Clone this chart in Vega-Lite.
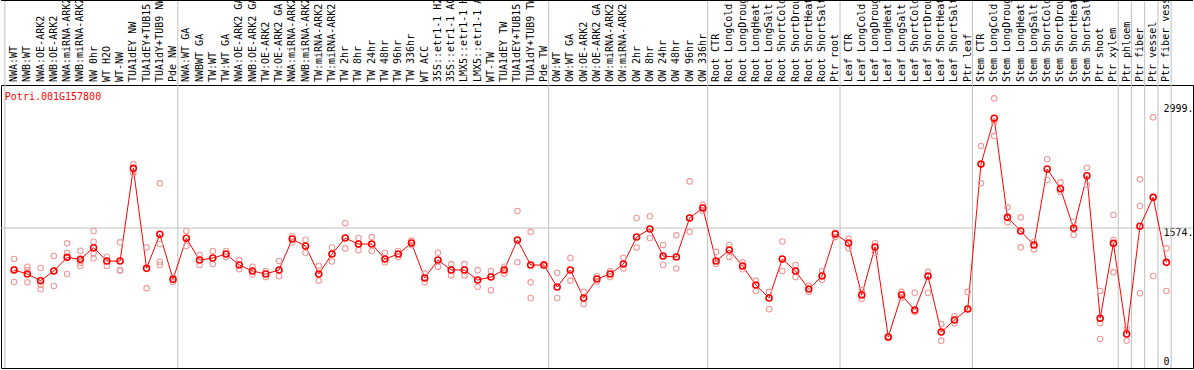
{
  "$schema": "https://vega.github.io/schema/vega-lite/v6.json",
  "autosize": "none",
  "padding": {"left": 1, "top": 85, "right": 1, "bottom": 2},
  "background": "white",
  "width": 1192,
  "height": 283,
  "config": {"view": {"stroke": "black", "strokeWidth": 1}},
  "datasets": {
    "samples": [
      {"i":0,"s":"NWA:WT","v":1092},{"i":1,"s":"NWB:WT","v":1046},{"i":2,"s":"NWA:OE-ARK2","v":969},{"i":3,"s":"NWB:OE-ARK2","v":1080},
      {"i":4,"s":"NWA:miRNA-ARK2","v":1237},{"i":5,"s":"NWB:miRNA-ARK2","v":1214},{"i":6,"s":"NW 0hr","v":1348},{"i":7,"s":"WT H2O","v":1195},
      {"i":8,"s":"WT-NW","v":1195},{"i":9,"s":"TUA1dEY NW","v":2260},{"i":10,"s":"TUA1dEY+TUB15","v":1111},{"i":11,"s":"TUA1dY+TUB9 NW","v":1502},
      {"i":12,"s":"Pde NW","v":985},{"i":13,"s":"NWA:WT GA","v":1456},{"i":14,"s":"NWBWT GA","v":1206},{"i":15,"s":"TW:WT","v":1229},
      {"i":16,"s":"TW:WT GA","v":1275},{"i":17,"s":"NWA:OE-ARK2 GA","v":1149},{"i":18,"s":"NWB:OE-ARK2 GA","v":1080},{"i":19,"s":"TW:OE-ARK2","v":1046},
      {"i":20,"s":"TW:OE-ARK2 GA","v":1092},{"i":21,"s":"NWA:miRNA-ARK2","v":1448},{"i":22,"s":"NWB:miRNA-ARK2","v":1367},{"i":23,"s":"TW:miRNA-ARK2","v":1046},
      {"i":24,"s":"TW:miRNA-ARK2","v":1275},{"i":25,"s":"TW 2hr","v":1459},{"i":26,"s":"TW 8hr","v":1390},{"i":27,"s":"TW 24hr","v":1390},
      {"i":28,"s":"TW 48hr","v":1218},{"i":29,"s":"TW 96hr","v":1275},{"i":30,"s":"TW 336hr","v":1402},{"i":31,"s":"WT ACC","v":1000},
      {"i":32,"s":"35S::etr1-1 H2O","v":1206},{"i":33,"s":"35S::etr1-1 ACC","v":1092},{"i":34,"s":"LMX5::etr1-1 H2O","v":1092},{"i":35,"s":"LMX5::etr1-1 ACC","v":977},
      {"i":36,"s":"WT-TW","v":1011},{"i":37,"s":"TUA1dEY TW","v":1092},{"i":38,"s":"TUA1dEY+TUB15","v":1436},{"i":39,"s":"TUA1dY+TUB9 TW","v":1149},
      {"i":40,"s":"Pde TW","v":1149},{"i":41,"s":"OW:WT","v":896},{"i":42,"s":"OW:WT GA","v":1092},{"i":43,"s":"OW:OE-ARK2","v":770},
      {"i":44,"s":"OW:OE-ARK2 GA","v":988},{"i":45,"s":"OW:miRNA-ARK2","v":1046},{"i":46,"s":"OW:miRNA-ARK2","v":1160},{"i":47,"s":"OW 2hr","v":1471},
      {"i":48,"s":"OW 8hr","v":1563},{"i":49,"s":"OW 24hr","v":1252},{"i":50,"s":"OW 48hr","v":1241},{"i":51,"s":"OW 96hr","v":1689},
      {"i":52,"s":"OW 336hr","v":1804},{"i":53,"s":"Root CTR","v":1195},{"i":54,"s":"Root LongCold","v":1321},{"i":55,"s":"Root LongDrought","v":1138},
      {"i":56,"s":"Root LongHeat","v":919},{"i":57,"s":"Root LongSalt","v":770},{"i":58,"s":"Root ShortCold","v":1218},{"i":59,"s":"Root ShortDrought","v":1080},
      {"i":60,"s":"Root ShortHeat","v":873},{"i":61,"s":"Root ShortSalt","v":1023},{"i":62,"s":"Ptr root","v":1505},{"i":63,"s":"Leaf CTR","v":1402},
      {"i":64,"s":"Leaf LongCold","v":804},{"i":65,"s":"Leaf LongDrought","v":1356},{"i":66,"s":"Leaf LongHeat","v":322},{"i":67,"s":"Leaf LongSalt","v":804},
      {"i":68,"s":"Leaf ShortCold","v":632},{"i":69,"s":"Leaf ShortDrought","v":1023},{"i":70,"s":"Leaf ShortHeat","v":379},{"i":71,"s":"Leaf ShortSalt","v":517},
      {"i":72,"s":"Ptr leaf","v":643},{"i":73,"s":"Stem CTR","v":2309},{"i":74,"s":"Stem LongCold","v":2835},{"i":75,"s":"Stem LongDrought","v":1697},
      {"i":76,"s":"Stem LongHeat","v":1540},{"i":77,"s":"Stem LongSalt","v":1379},{"i":78,"s":"Stem ShortCold","v":2252},{"i":79,"s":"Stem ShortDrought","v":2026},
      {"i":80,"s":"Stem ShortHeat","v":1571},{"i":81,"s":"Stem ShortSalt","v":2175},{"i":82,"s":"Ptr shoot","v":537},{"i":83,"s":"Ptr xylem","v":1398},
      {"i":84,"s":"Ptr phloem","v":356},{"i":85,"s":"Ptr fiber","v":1594},{"i":86,"s":"Ptr vessel","v":1927},{"i":87,"s":"Ptr fiber vessel","v":1180}
    ],
    "reps": [
      {"i":0,"v":1218},{"i":0,"v":954},{"i":0,"v":1100},
      {"i":1,"v":1129},{"i":1,"v":950},{"i":1,"v":1092},
      {"i":2,"v":1115},{"i":2,"v":870},{"i":2,"v":919},
      {"i":3,"v":1252},{"i":3,"v":908},
      {"i":4,"v":1398},{"i":4,"v":1290},{"i":4,"v":1046},
      {"i":5,"v":1313},{"i":5,"v":1175},{"i":5,"v":1138},
      {"i":6,"v":1540},{"i":6,"v":1417},{"i":6,"v":1283},{"i":6,"v":1226},
      {"i":7,"v":1244},{"i":7,"v":1138},
      {"i":8,"v":1410},{"i":8,"v":1083},{"i":8,"v":1092},
      {"i":9,"v":2309},{"i":9,"v":2203},
      {"i":10,"v":1352},{"i":10,"v":881},
      {"i":11,"v":2088},{"i":11,"v":1390},{"i":11,"v":1187},{"i":11,"v":1149},
      {"i":12,"v":957},{"i":12,"v":1008},
      {"i":13,"v":1540},{"i":13,"v":1367},
      {"i":14,"v":1264},{"i":14,"v":1149},
      {"i":15,"v":1310},{"i":15,"v":1160},
      {"i":16,"v":1310},{"i":16,"v":1240},
      {"i":17,"v":1206},{"i":17,"v":1100},
      {"i":18,"v":1130},{"i":18,"v":1040},
      {"i":19,"v":1080},{"i":19,"v":1010},
      {"i":20,"v":1195},{"i":20,"v":1020},
      {"i":21,"v":1480},{"i":21,"v":1410},
      {"i":22,"v":1440},{"i":22,"v":1290},
      {"i":23,"v":1140},{"i":23,"v":970},
      {"i":24,"v":1350},{"i":24,"v":1190},
      {"i":25,"v":1630},{"i":25,"v":1340},
      {"i":26,"v":1460},{"i":26,"v":1320},
      {"i":27,"v":1470},{"i":27,"v":1310},
      {"i":28,"v":1290},{"i":28,"v":1180},
      {"i":29,"v":1310},{"i":29,"v":1240},
      {"i":30,"v":1430},{"i":30,"v":1380},
      {"i":31,"v":1050},{"i":31,"v":950},
      {"i":32,"v":1290},{"i":32,"v":1130},
      {"i":33,"v":1160},{"i":33,"v":1030},
      {"i":34,"v":1160},{"i":34,"v":1030},
      {"i":35,"v":1090},{"i":35,"v":900},
      {"i":36,"v":1080},{"i":36,"v":860},
      {"i":37,"v":1130},{"i":37,"v":1050},
      {"i":38,"v":1770},{"i":38,"v":1180},
      {"i":39,"v":1530},{"i":39,"v":950},{"i":39,"v":770},
      {"i":40,"v":1160},{"i":40,"v":1140},
      {"i":41,"v":1060},{"i":41,"v":770},
      {"i":42,"v":1230},{"i":42,"v":970},
      {"i":43,"v":840},{"i":43,"v":700},
      {"i":44,"v":1020},{"i":44,"v":960},
      {"i":45,"v":1080},{"i":45,"v":1010},
      {"i":46,"v":1230},{"i":46,"v":1110},
      {"i":47,"v":1690},{"i":47,"v":1350},
      {"i":48,"v":1710},{"i":48,"v":1460},
      {"i":49,"v":1380},{"i":49,"v":1150},
      {"i":50,"v":1490},{"i":50,"v":1110},
      {"i":51,"v":2110},{"i":51,"v":1530},
      {"i":52,"v":1840},{"i":52,"v":1770},
      {"i":53,"v":1300},{"i":53,"v":1160},
      {"i":54,"v":1380},{"i":54,"v":1240},
      {"i":55,"v":1180},{"i":55,"v":1100},
      {"i":56,"v":970},{"i":56,"v":850},
      {"i":57,"v":840},{"i":57,"v":640},
      {"i":58,"v":1420},{"i":58,"v":1080},
      {"i":59,"v":1150},{"i":59,"v":1010},
      {"i":60,"v":910},{"i":60,"v":840},
      {"i":61,"v":1080},{"i":61,"v":980},
      {"i":62,"v":1520},{"i":62,"v":1470},
      {"i":63,"v":1450},{"i":63,"v":1340},
      {"i":64,"v":860},{"i":64,"v":760},
      {"i":65,"v":1400},{"i":65,"v":1290},
      {"i":66,"v":330},{"i":66,"v":310},
      {"i":67,"v":840},{"i":67,"v":770},
      {"i":68,"v":830},{"i":68,"v":610},
      {"i":69,"v":1070},{"i":69,"v":830},
      {"i":70,"v":470},{"i":70,"v":280},
      {"i":71,"v":560},{"i":71,"v":480},
      {"i":72,"v":840},{"i":72,"v":650},
      {"i":73,"v":2516},{"i":73,"v":2088},
      {"i":74,"v":3064},{"i":74,"v":2789},{"i":74,"v":2631},
      {"i":75,"v":1812},{"i":75,"v":1640},
      {"i":76,"v":1697},{"i":76,"v":1352},
      {"i":77,"v":1417},{"i":77,"v":1329},
      {"i":78,"v":2364},{"i":78,"v":2126},
      {"i":79,"v":2099},{"i":79,"v":1991},
      {"i":80,"v":1647},{"i":80,"v":1494},
      {"i":81,"v":2267},{"i":81,"v":2068},
      {"i":82,"v":850},{"i":82,"v":479},{"i":82,"v":299},
      {"i":83,"v":1724},{"i":83,"v":1436},{"i":83,"v":1065},
      {"i":84,"v":422},{"i":84,"v":279},
      {"i":85,"v":2134},{"i":85,"v":1827},{"i":85,"v":824},
      {"i":86,"v":2846},{"i":86,"v":1023},
      {"i":87,"v":1341},{"i":87,"v":850}
    ],
    "seps": [{"i":12},{"i":40},{"i":52},{"i":62},{"i":72},{"i":83},{"i":84},{"i":85},{"i":86},{"i":87}],
    "start": [{"i":0}],
    "last": [{"i":87}],
    "gene": [{"i":0,"v":3079,"name":"Potri.001G157800"}]
  },
  "layer": [
    {
      "data": {"name": "seps"},
      "mark": {"type": "rule", "color": "#c0c0c0", "strokeWidth": 1},
      "encoding": {
        "x": {"field": "i", "type": "ordinal", "bandPosition": 0.86, "axis": null,
              "scale": {"type": "band", "paddingInner": 0, "paddingOuter": 1.846, "align": 0.2458}},
        "y": {"datum": -34.5, "type": "quantitative", "scale": {"domain": [-34.5, 3218], "nice": false, "zero": false}},
        "y2": {"datum": 4195}
      }
    },
    {
      "data": {"name": "start"},
      "mark": {"type": "rule", "color": "#c0c0c0", "strokeWidth": 1},
      "encoding": {
        "x": {"field": "i", "type": "ordinal", "bandPosition": -0.2, "axis": null,
              "scale": {"type": "band", "paddingInner": 0, "paddingOuter": 1.846, "align": 0.2458}},
        "y": {"datum": -34.5, "type": "quantitative", "scale": {"domain": [-34.5, 3218], "nice": false, "zero": false}},
        "y2": {"datum": 4195}
      }
    },
    {
      "data": {"name": "start"},
      "mark": {"type": "rule", "color": "black", "strokeWidth": 1},
      "encoding": {
        "x": {"field": "i", "type": "ordinal", "bandPosition": -0.908, "axis": null,
              "scale": {"type": "band", "paddingInner": 0, "paddingOuter": 1.846, "align": 0.2458}},
        "y": {"datum": 3218, "type": "quantitative", "scale": {"domain": [-34.5, 3218], "nice": false, "zero": false}},
        "y2": {"datum": 4195}
      }
    },
    {
      "data": {"name": "last"},
      "mark": {"type": "rule", "color": "black", "strokeWidth": 1},
      "encoding": {
        "x": {"field": "i", "type": "ordinal", "bandPosition": 3.785, "axis": null,
              "scale": {"type": "band", "paddingInner": 0, "paddingOuter": 1.846, "align": 0.2458}},
        "y": {"datum": 3218, "type": "quantitative", "scale": {"domain": [-34.5, 3218], "nice": false, "zero": false}},
        "y2": {"datum": 4195}
      }
    },
    {
      "data": {"name": "gene"},
      "mark": {"type": "rule", "color": "black", "strokeWidth": 1},
      "encoding": {
        "y": {"datum": 4189, "type": "quantitative", "scale": {"domain": [-34.5, 3218], "nice": false, "zero": false}}
      }
    },
    {
      "data": {"name": "gene"},
      "mark": {"type": "rule", "color": "#c0c0c0", "strokeWidth": 1},
      "encoding": {
        "y": {"datum": 1574, "type": "quantitative", "scale": {"domain": [-34.5, 3218], "nice": false, "zero": false}}
      }
    },
    {
      "data": {"name": "samples"},
      "mark": {"type": "text", "angle": 270, "align": "left", "baseline": "middle", "dx": 3,
               "font": "DejaVu Sans Mono", "fontSize": 10, "color": "black"},
      "encoding": {
        "x": {"field": "i", "type": "ordinal", "axis": null,
              "scale": {"type": "band", "paddingInner": 0, "paddingOuter": 1.846, "align": 0.2458}},
        "y": {"datum": 3218, "type": "quantitative", "scale": {"domain": [-34.5, 3218], "nice": false, "zero": false}},
        "text": {"field": "s"}
      }
    },
    {
      "data": {"name": "samples"},
      "mark": {"type": "line", "color": "#ff0000", "strokeWidth": 1},
      "encoding": {
        "x": {"field": "i", "type": "ordinal", "axis": null,
              "scale": {"type": "band", "paddingInner": 0, "paddingOuter": 1.846, "align": 0.2458}},
        "y": {"field": "v", "type": "quantitative",
              "scale": {"domain": [-34.5, 3218], "nice": false, "zero": false},
              "axis": {"orient": "right", "offset": -30, "values": [0, 1574, 2999], "title": null,
                       "grid": false, "domain": false, "ticks": false, "labelPadding": 0,
                       "labelFlush": false, "labelOverlap": false,
                       "labelFont": "DejaVu Sans Mono", "labelFontSize": 10, "labelColor": "black",
                       "labelAlign": "left", "labelBaseline": "middle",
                       "labelOffset": {"condition": {"test": "datum.value == 0", "value": -3.5}, "value": 4},
                       "labelExpr": "datum.value == 0 ? '0' : datum.value + '.'"}}
      }
    },
    {
      "data": {"name": "reps"},
      "mark": {"type": "point", "shape": "circle", "filled": false, "color": "#ee9999", "strokeWidth": 1.1, "size": 30, "opacity": 1},
      "encoding": {
        "x": {"field": "i", "type": "ordinal", "axis": null,
              "scale": {"type": "band", "paddingInner": 0, "paddingOuter": 1.846, "align": 0.2458}},
        "y": {"field": "v", "type": "quantitative",
              "scale": {"domain": [-34.5, 3218], "nice": false, "zero": false}}
      }
    },
    {
      "data": {"name": "samples"},
      "mark": {"type": "point", "shape": "circle", "filled": false, "color": "#ff0000", "strokeWidth": 1.6, "size": 36, "opacity": 1},
      "encoding": {
        "x": {"field": "i", "type": "ordinal", "axis": null,
              "scale": {"type": "band", "paddingInner": 0, "paddingOuter": 1.846, "align": 0.2458}},
        "y": {"field": "v", "type": "quantitative",
              "scale": {"domain": [-34.5, 3218], "nice": false, "zero": false}}
      }
    },
    {
      "data": {"name": "gene"},
      "mark": {"type": "text", "align": "left", "baseline": "middle", "dx": -9.3,
               "font": "DejaVu Sans Mono", "fontSize": 10, "color": "#ff0000"},
      "encoding": {
        "x": {"field": "i", "type": "ordinal", "axis": null,
              "scale": {"type": "band", "paddingInner": 0, "paddingOuter": 1.846, "align": 0.2458}},
        "y": {"field": "v", "type": "quantitative",
              "scale": {"domain": [-34.5, 3218], "nice": false, "zero": false}},
        "text": {"field": "name"}
      }
    }
  ]
}
